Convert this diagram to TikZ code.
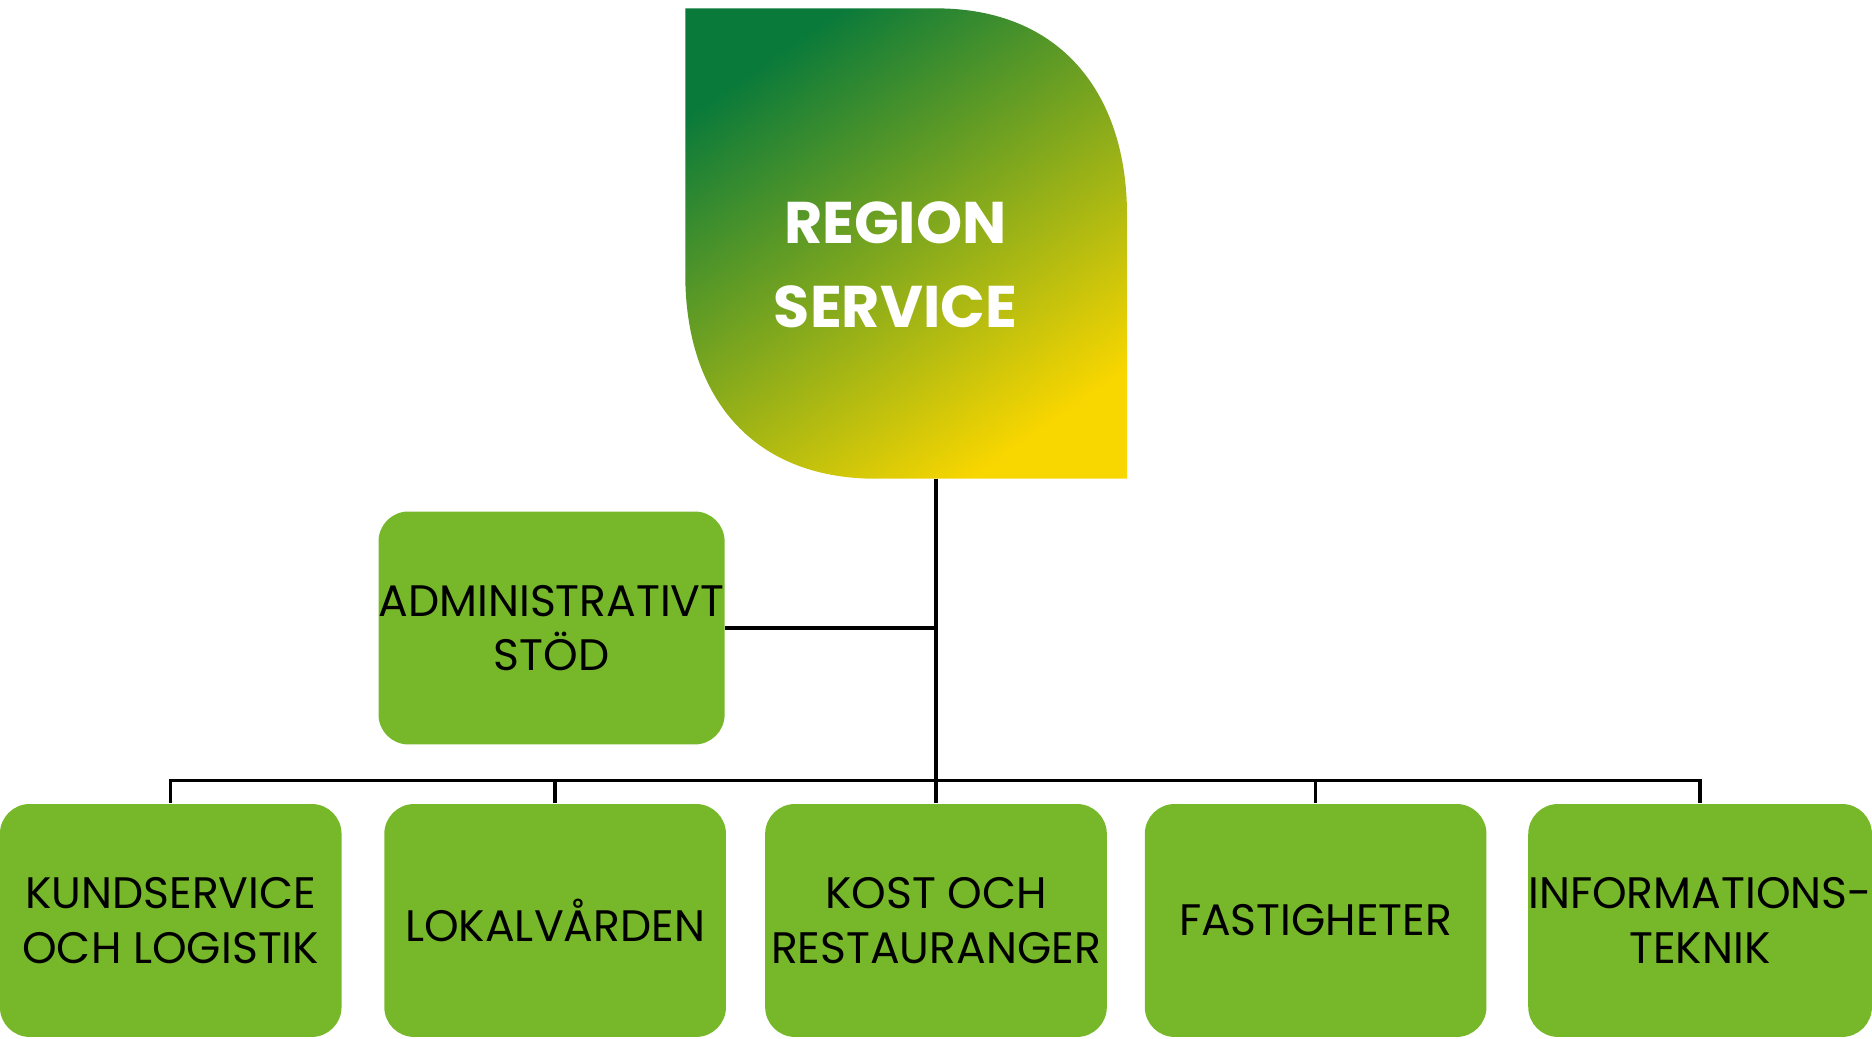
\documentclass[tikz,border=0pt]{standalone}
\usepackage{fontspec}
\setmainfont{Poppins}
\usetikzlibrary{positioning,calc}
\definecolor{unitgreen}{HTML}{77B82A}
\definecolor{leafgreen}{HTML}{0A7A3A}
\definecolor{leafyellow}{HTML}{F8D600}
\begin{document}
\begin{tikzpicture}[
    x=0.01cm, y=-0.01cm,
    unit/.style={rectangle, fill=unitgreen, rounded corners=0.25cm, minimum width=2.86cm, minimum height=1.95cm, align=center, font=\fontsize{10.5}{13}\selectfont, inner sep=0pt},
    link/.style={thick, black}
]
    \useasboundingbox (0,0) rectangle (1568,870);
    % Top leaf
    \shade[top color=leafgreen, bottom color=leafyellow, shading angle=35]
        (574,7) -- (784,7) .. controls (890,7) and (944,80) .. (944,180) -- (944,401)
        -- (734,401) .. controls (628,401) and (574,330) .. (574,230) -- cycle;
    \node[font=\bfseries\fontsize{14}{20}\selectfont, text=white, align=center] (top) at (750,222) {REGION\\SERVICE};
    \coordinate (topfoot) at (784,401);

    % Units
    \node[unit] (admin) at (462,526) {ADMINISTRATIVT\\STÖD};
    \node[unit] (kund) at (143,771) {KUNDSERVICE\\OCH LOGISTIK};
    \node[unit] (lokal) at (465,771) {LOKALVÅRDEN};
    \node[unit] (kost) at (784,771) {KOST OCH\\RESTAURANGER};
    \node[unit] (fast) at (1102,771) {FASTIGHETER};
    \node[unit] (it) at (1424,771) {INFORMATIONS-\\TEKNIK};

    % Links
    \coordinate (bus) at (784,654);
    \draw[link] (topfoot) -- (kost.north);
    \draw[link] (admin.east) -- (admin.east -| topfoot);
    \draw[link] (kund.north) |- (bus) -| (it.north);
    \foreach \n in {lokal, fast}
        \draw[link] (\n.north) -- (\n.north |- bus);
\end{tikzpicture}
\end{document}
